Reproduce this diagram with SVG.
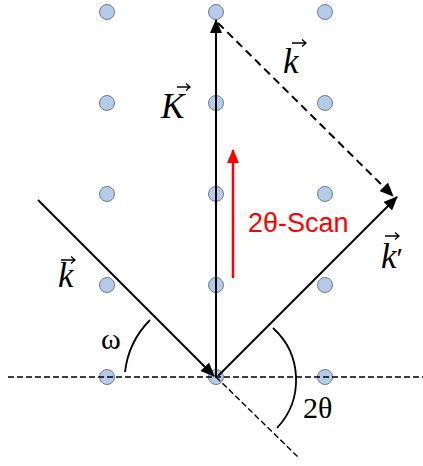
<svg xmlns="http://www.w3.org/2000/svg" width="423" height="466" viewBox="0 0 423 466">
<defs>
<style>
.dot{fill:#b4cbe9;stroke:#6f7c8f;stroke-width:1}
.vec{stroke:#000;stroke-width:2;fill:none}
.dash{stroke:#000;stroke-width:2;fill:none;stroke-dasharray:8 5}
.thin{stroke:#000;stroke-width:1.4;fill:none;stroke-dasharray:6 3}
.arc{stroke:#000;stroke-width:1.8;fill:none}
.lbl{font-family:"Liberation Serif","Times New Roman",serif;font-size:30px;fill:#000}
.it{font-style:italic;font-size:35px}
.acc{stroke:#000;stroke-width:1.3;fill:none}
</style>
<marker id="ah" viewBox="0 0 14 12" refX="13" refY="6" markerWidth="14" markerHeight="12" markerUnits="userSpaceOnUse" orient="auto">
<path d="M0,0 L14,6 L0,12 Z" fill="#000"/>
</marker>
<marker id="ahr" viewBox="0 0 14 12" refX="13" refY="6" markerWidth="14" markerHeight="12" markerUnits="userSpaceOnUse" orient="auto">
<path d="M0,0 L14,6 L0,12 Z" fill="#ff0000"/>
</marker>
</defs>
<rect width="423" height="466" fill="#fff"/>
<g id="lattice">
<circle class="dot" cx="107" cy="12" r="7.5"/><circle class="dot" cx="216" cy="12" r="7.5"/><circle class="dot" cx="325" cy="12" r="7.5"/>
<circle class="dot" cx="107" cy="103" r="7.5"/><circle class="dot" cx="216" cy="103" r="7.5"/><circle class="dot" cx="325" cy="103" r="7.5"/>
<circle class="dot" cx="107" cy="194" r="7.5"/><circle class="dot" cx="216" cy="194" r="7.5"/><circle class="dot" cx="325" cy="194" r="7.5"/>
<circle class="dot" cx="107" cy="285" r="7.5"/><circle class="dot" cx="216" cy="285" r="7.5"/><circle class="dot" cx="325" cy="285" r="7.5"/>
<circle class="dot" cx="107" cy="377" r="7.5"/><circle class="dot" cx="216" cy="377" r="7.5"/><circle class="dot" cx="325" cy="377" r="7.5"/>
</g>
<g id="connectors">
<line class="thin" x1="8" y1="377" x2="423" y2="377"/>
<line class="thin" x1="216" y1="377" x2="299" y2="458"/>
<line class="vec" x1="216" y1="377" x2="216" y2="20" marker-end="url(#ah)"/>
<line class="dash" x1="218" y1="23" x2="393" y2="196" marker-end="url(#ah)"/>
<line class="vec" x1="38" y1="200" x2="214" y2="376" marker-end="url(#ah)"/>
<line class="vec" x1="218" y1="376" x2="397" y2="197" marker-end="url(#ah)"/>
<line x1="233" y1="278" x2="233" y2="150" stroke="#ff0000" stroke-width="2.5" marker-end="url(#ahr)"/>
<path class="arc" d="M150,320 A88,88 0 0 0 125,372"/>
<path class="arc" d="M273,328 A70,70 0 0 1 277,428"/>
</g>
<g id="label-K">
<text class="lbl it" x="161" y="118">K</text>
<path class="acc" d="M177,87 H190 M186,83.5 L190,87 L186,90.5"/>
</g>
<g id="label-k-top">
<text class="lbl it" x="283" y="73">k</text>
<path class="acc" d="M292,43 H306 M302,39.5 L306,43 L302,46.5"/>
</g>
<g id="label-k-left">
<text class="lbl it" x="58" y="287">k</text>
<path class="acc" d="M61,260 H75 M71,256.5 L75,260 L71,263.5"/>
</g>
<g id="label-kprime">
<text class="lbl" x="381" y="268"><tspan class="it">k</tspan>′</text>
<path class="acc" d="M385,236 H399 M395,232.5 L399,236 L395,239.5"/>
</g>
<g id="label-omega"><text class="lbl" x="101" y="349">ω</text></g>
<g id="label-2theta"><text class="lbl" x="303" y="418">2θ</text></g>
<g id="label-scan"><text x="248" y="232" font-family="Liberation Sans, Arial, sans-serif" font-size="27" fill="#ff0000">2θ-Scan</text></g>
</svg>
